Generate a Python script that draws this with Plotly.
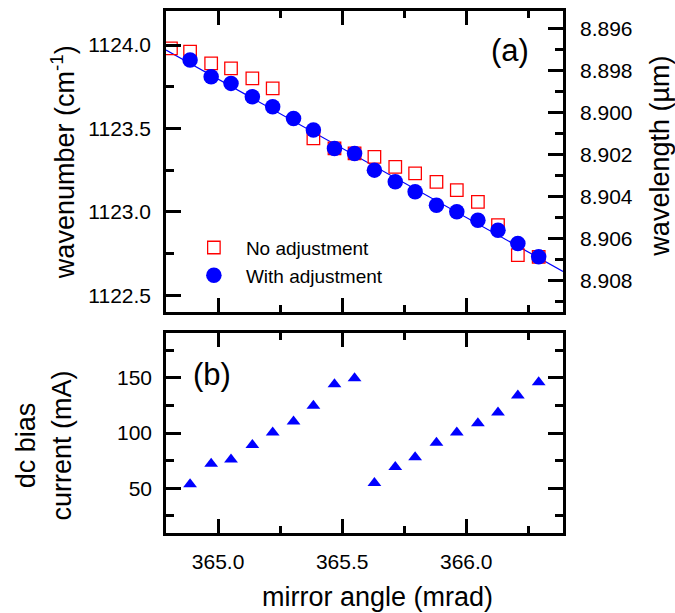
import plotly.graph_objects as go

# Mirror angle (mrad) of each tuning step
angle = [364.887, 364.972, 365.052, 365.138, 365.220, 365.304, 365.384, 365.469, 365.550,
         365.630, 365.714, 365.794, 365.880, 365.962, 366.047, 366.128, 366.208, 366.292]

# Wavenumber (cm^-1) without bias adjustment
angle_noadj = [364.810, 364.887, 364.972, 365.052, 365.138, 365.220, 365.384, 365.469, 365.550,
               365.630, 365.714, 365.794, 365.880, 365.962, 366.047, 366.128, 366.208, 366.292]
wn_noadj = [1123.98, 1123.96, 1123.89, 1123.86, 1123.80, 1123.74, 1123.44, 1123.38, 1123.35,
            1123.33, 1123.27, 1123.23, 1123.18, 1123.13, 1123.06, 1122.92, 1122.74, 1122.73]

# Wavenumber (cm^-1) with bias adjustment
wn_adj = [1123.91, 1123.81, 1123.77, 1123.69, 1123.63, 1123.56, 1123.49, 1123.38, 1123.35,
          1123.25, 1123.18, 1123.12, 1123.04, 1123.00, 1122.95, 1122.89, 1122.81, 1122.73]

# Linear fit through the adjusted points
fit_angle = [364.79, 366.39]
fit_wn = [1123.97, 1122.643]

# dc bias current (mA)
bias = [53.6, 72.2, 76.1, 89.3, 100.5, 110.4, 124.8, 144.3, 149.7,
        54.8, 69.2, 78.2, 91.2, 100.5, 108.8, 118.7, 134.0, 146.1]

# Wavelength scale (um) for the right axis
wl_major = [8.896, 8.898, 8.900, 8.902, 8.904, 8.906, 8.908]
wl_minor = [8.897, 8.899, 8.901, 8.903, 8.905, 8.907, 8.909]

X_RANGE = [364.79, 366.39]
WN_RANGE = [1122.398, 1124.204]
BIAS_RANGE = [9.5, 190.5]

FONT = "Liberation Sans, Arial, sans-serif"
BLUE = "#0000ff"
RED = "#ff0000"
LW = 2.6

fig = go.Figure()

fig.add_trace(go.Scatter(
    x=fit_angle, y=fit_wn, xaxis="x2", yaxis="y2", mode="lines",
    line=dict(color=BLUE, width=1.2), showlegend=False, hoverinfo="skip"))
fig.add_trace(go.Scatter(
    x=angle_noadj, y=wn_noadj, xaxis="x2", yaxis="y2", mode="markers",
    name="No adjustment",
    marker=dict(symbol="square-open", size=12.5, color=RED, line=dict(width=1.3, color=RED))))
fig.add_trace(go.Scatter(
    x=angle, y=wn_adj, xaxis="x2", yaxis="y2", mode="markers",
    name="With adjustment",
    marker=dict(symbol="circle", size=15.5, color=BLUE, line=dict(width=0))))
# invisible trace so the wavelength axis is drawn
fig.add_trace(go.Scatter(
    x=[X_RANGE[0]], y=[WN_RANGE[0]], xaxis="x2", yaxis="y3", mode="markers",
    marker=dict(opacity=0), showlegend=False, hoverinfo="skip"))
fig.add_trace(go.Scatter(
    x=angle, y=bias, xaxis="x", yaxis="y", mode="markers", showlegend=False,
    marker=dict(symbol="triangle-up", size=12, color=BLUE, line=dict(width=0))))

common_axis = dict(
    showline=True, linecolor="black", linewidth=LW, ticks="inside",
    tickcolor="black", tickwidth=LW, showgrid=False, zeroline=False,
    tickfont=dict(family=FONT, size=21, color="black"),
)

bottom_dom = [0, 0.3829]
top_dom = [0.4229, 1.0]

fig.update_layout(
    width=675, height=613,
    margin=dict(l=166, r=112, t=8, b=80),
    paper_bgcolor="white", plot_bgcolor="white",
    font=dict(family=FONT, color="black"),
    xaxis=dict(common_axis, domain=[0, 1], anchor="y", range=X_RANGE,
               tick0=365.0, dtick=0.5, tickformat=".1f", ticklen=14, mirror="ticks",
               ticklabelstandoff=8,
               minor=dict(ticks="inside", dtick=0.25, tick0=365.0, ticklen=7,
                          tickwidth=LW, tickcolor="black")),
    xaxis2=dict(common_axis, domain=[0, 1], anchor="y2", range=X_RANGE, matches="x",
                tick0=365.0, dtick=0.5, ticklen=14, mirror="ticks", showticklabels=False,
                minor=dict(ticks="inside", dtick=0.25, tick0=365.0, ticklen=7,
                           tickwidth=LW, tickcolor="black")),
    yaxis=dict(common_axis, domain=bottom_dom, anchor="x", range=BIAS_RANGE,
               tick0=0, dtick=50, ticklen=15, mirror="ticks", ticklabelstandoff=7,
               minor=dict(ticks="inside", dtick=25, tick0=0, ticklen=8,
                          tickwidth=LW, tickcolor="black")),
    yaxis2=dict(common_axis, domain=top_dom, anchor="x2", range=WN_RANGE,
                tick0=1122.5, dtick=0.5, tickformat=".1f", ticklen=15, mirror=False,
                ticklabelstandoff=8,
                minor=dict(ticks="inside", dtick=0.25, tick0=1122.5, ticklen=8,
                           tickwidth=LW, tickcolor="black")),
    yaxis3=dict(common_axis, overlaying="y2", side="right", anchor="x2", range=WN_RANGE,
                tickmode="array", tickvals=[1e4 / w for w in wl_major],
                ticktext=[f"{w:.3f}" for w in wl_major], ticklen=15,
                ticklabelstandoff=10,
                minor=dict(ticks="inside", tickmode="array",
                           tickvals=[1e4 / w for w in wl_minor], ticklen=8,
                           tickwidth=LW, tickcolor="black")),
    legend=dict(x=0.04, y=0.583, xanchor="left", yanchor="top",
                bgcolor="rgba(0,0,0,0)", itemwidth=54,
                font=dict(family=FONT, size=19, color="black")),
)

title_font = dict(family=FONT, size=27, color="black")
annotations = [
    dict(text="(a)", x=0.8665, y=0.9238, font=dict(family=FONT, size=31, color="black")),
    dict(text="(b)", x=0.117, y=0.3029, font=dict(family=FONT, size=31, color="black")),
    dict(text="wavenumber (cm<sup>-1</sup>)", x=-0.2594, y=0.7105, textangle=-90, font=title_font),
    dict(text="wavelength (\u00b5m)", x=1.2443, y=0.7229, textangle=-90, font=title_font),
    dict(text="dc bias<br>current (mA)", x=-0.3073, y=0.1676, textangle=-90, font=title_font),
    dict(text="mirror angle (mrad)", x=0.534, y=-0.1219, font=title_font),
]
for a in annotations:
    fig.add_annotation(xref="paper", yref="paper", xanchor="center", yanchor="middle",
                       showarrow=False, **a)

fig.write_html("out.html")
